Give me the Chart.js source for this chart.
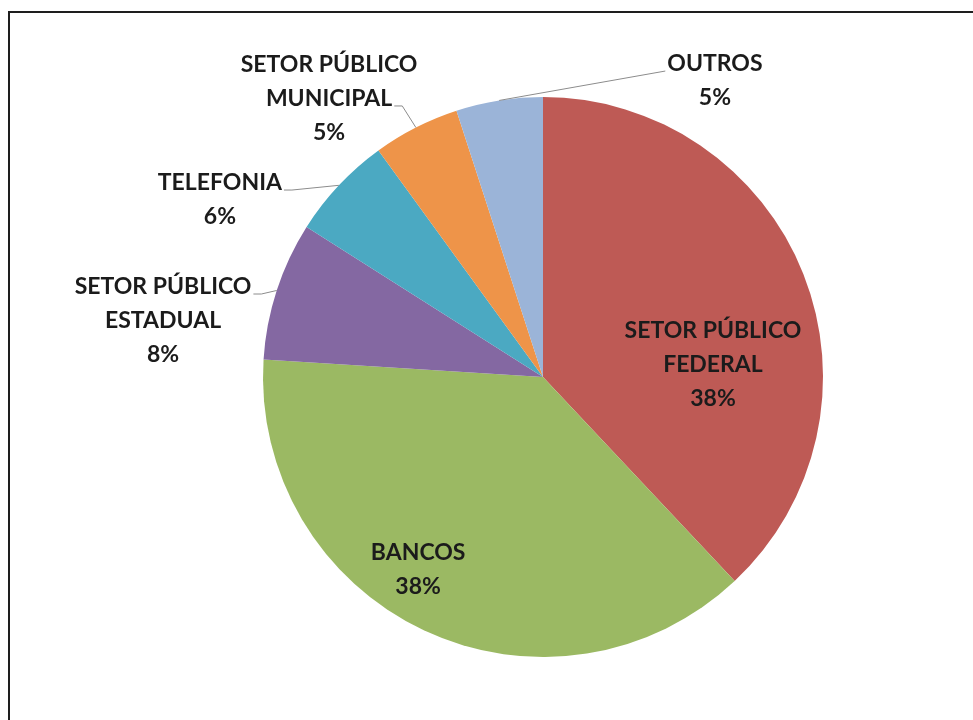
<!DOCTYPE html>
<html>
<head>
<meta charset="utf-8">
<script src="https://cdn.jsdelivr.net/npm/chart.js@4/dist/chart.umd.min.js"></script>
<style>
  html, body { margin: 0; padding: 0; background: #fff; }
  #wrap { width: 973px; height: 720px; position: relative; }
</style>
</head>
<body>
<div id="wrap"><canvas id="pie" width="973" height="720"></canvas></div>
<script>
// dados do gráfico (sentido horário a partir do topo)
const categorias = ['SETOR PÚBLICO FEDERAL', 'BANCOS', 'SETOR PÚBLICO ESTADUAL', 'TELEFONIA', 'SETOR PÚBLICO MUNICIPAL', 'OUTROS'];
const rotulos = [
  ['SETOR PÚBLICO', 'FEDERAL'],
  ['BANCOS'],
  ['SETOR PÚBLICO', 'ESTADUAL'],
  ['TELEFONIA'],
  ['SETOR PÚBLICO', 'MUNICIPAL'],
  ['OUTROS']
];
const percentuais = [38, 38, 8, 6, 5, 5];
const cores = ['#BE5A55', '#9BB963', '#8468A2', '#4BA9C2', '#EE9449', '#9BB4D8'];

// posição dos rótulos relativa ao centro (em frações do raio) e linha de chamada
const layoutRotulos = [
  { dx: 0.607, dy: -0.046, leader: null },
  { dx: -0.446, dy: 0.689, leader: null },
  { dx: -1.357, dy: -0.2, leader: { line: 0, side: 'right' } },
  { dx: -1.154, dy: -0.632, leader: { line: 0, side: 'right' } },
  { dx: -0.764, dy: -0.993, leader: { line: 1, side: 'right' } },
  { dx: 0.614, dy: -1.057, leader: { line: 0, side: 'left' } }
];

const FONTE = 'bold 23px Lato, "Open Sans", sans-serif';
const ALTURA_LINHA = 34;

const moldura = {
  id: 'moldura',
  afterDraw(chart) {
    const c = chart.ctx;
    c.save();
    c.strokeStyle = '#1e1e1e';
    c.lineWidth = 2;
    c.beginPath();
    c.moveTo(9, 2000);
    c.lineTo(9, 12);
    c.lineTo(2000, 12);
    c.stroke();
    c.restore();
  }
};

const rotulosPlugin = {
  id: 'rotulos',
  afterDatasetsDraw(chart) {
    const c = chart.ctx;
    const arcs = chart.getDatasetMeta(0).data;
    c.save();
    c.font = FONTE;
    c.textAlign = 'center';
    c.textBaseline = 'middle';
    arcs.forEach((arc, i) => {
      const r = arc.outerRadius;
      const lay = layoutRotulos[i];
      const linhas = rotulos[i].concat([percentuais[i] + '%']);
      const cx = arc.x + lay.dx * r;
      const cy = arc.y + lay.dy * r;
      const y0 = cy - (linhas.length - 1) * ALTURA_LINHA / 2;
      c.fillStyle = '#1b1b1b';
      linhas.forEach((t, k) => c.fillText(t, cx, y0 + k * ALTURA_LINHA));
      if (lay.leader) {
        const mid = (arc.startAngle + arc.endAngle) / 2;
        const ex = arc.x + Math.cos(mid) * r;
        const ey = arc.y + Math.sin(mid) * r;
        const ln = linhas[lay.leader.line];
        const w = c.measureText(ln).width;
        const ly = y0 + lay.leader.line * ALTURA_LINHA + 7;
        c.strokeStyle = '#8c8c8c';
        c.lineWidth = 1;
        c.beginPath();
        if (lay.leader.side === 'right') {
          const sx = cx + w / 2 + 2;
          c.moveTo(sx, ly);
          c.lineTo(sx + 8, ly);
        } else {
          const sx = cx - w / 2 - 2;
          c.moveTo(sx, ly);
        }
        c.lineTo(ex, ey);
        c.stroke();
      }
    });
    c.restore();
  }
};

new Chart(document.getElementById('pie').getContext('2d'), {
  type: 'pie',
  data: {
    labels: categorias,
    datasets: [{ data: percentuais, backgroundColor: cores, borderWidth: 0 }]
  },
  options: {
    responsive: false,
    animation: false,
    layout: { padding: { left: 263, right: 150, top: 97, bottom: 63 } },
    plugins: { legend: { display: false }, tooltip: { enabled: false } }
  },
  plugins: [rotulosPlugin, moldura]
});
</script>
</body>
</html>
